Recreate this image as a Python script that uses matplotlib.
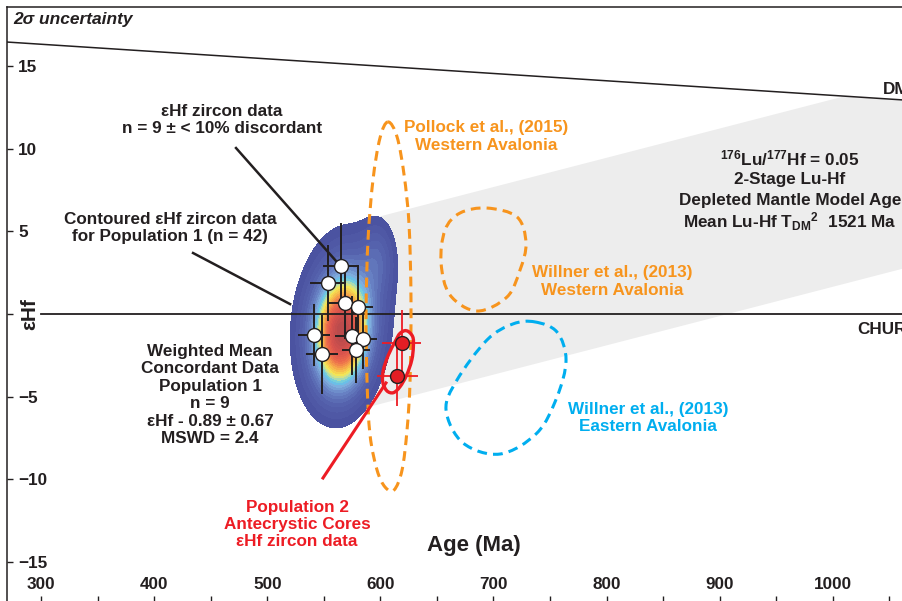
import numpy as np
import matplotlib.pyplot as plt
from matplotlib.path import Path
from matplotlib.patches import PathPatch
from matplotlib.colors import LinearSegmentedColormap

plt.rcParams['font.family'] = ['Liberation Sans', 'DejaVu Sans']
plt.rcParams['font.weight'] = 'bold'
plt.rcParams['axes.labelweight'] = 'bold'
plt.rcParams['mathtext.fontset'] = 'custom'
plt.rcParams['mathtext.rm'] = 'Liberation Sans:bold'
plt.rcParams['mathtext.it'] = 'Liberation Sans:bold:italic'
plt.rcParams['mathtext.bf'] = 'Liberation Sans:bold'

INK = '#231F20'
ORANGE = '#F7941D'
BLUE = '#00AEEF'
RED = '#ED1C24'

# ==================================================
# DATA
# ==================================================
# Population 1 zircons (< 10% discordant)
pop1_age = [565.3, 553.5, 568.8, 580.5, 541.6, 575.2, 585.0, 578.5, 548.2]
pop1_ehf = [2.90, 1.89, 0.68, 0.44, -1.27, -1.31, -1.53, -2.18, -2.44]
pop1_age_err = [16, 16, 14, 13, 14, 15, 12, 12, 14]
pop1_ehf_err = [2.6, 2.3, 2.2, 2.5, 1.9, 2.4, 1.8, 2.0, 2.4]

# Population 2 antecrystic cores
pop2_age = [618.9, 615.0]
pop2_ehf = [-1.77, -3.75]
pop2_age_err = [17, 18]
pop2_ehf_err = [2.0, 1.8]

# Density components for the Population 1 (n = 42) contour
blob_age = [566, 566, 598]
blob_ehf = [-1.2, -0.5, 3.4]
blob_sx = [15, 23, 10]
blob_sy = [2.1, 3.0, 1.5]
blob_rho = [0.1, 0.15, 0.0]
blob_w = [1.0, 0.45, 0.18]

# Reference evolution lines
dm_age = [270, 1150]
dm_ehf = [16.45, 12.56]
chur_age = [300, 1150]
chur_ehf = [0, 0]

# 176Lu/177Hf = 0.05 crustal evolution band
band_age = [560, 1150]
band_lo = [-6.11, 4.34]
band_hi = [5.24, 15.68]

# Literature fields
pollock_age = [606.8, 614.8, 621.0, 625.4, 627.1, 626.3, 623.6, 619.2, 612.1,
               604.2, 597.1, 590.9, 588.2, 587.4, 589.1, 593.5, 599.7]
pollock_ehf = [11.62, 10.71, 8.41, 5.38, 0.85, -3.99, -7.02, -9.44, -10.65,
               -10.47, -9.44, -7.32, -3.99, 0.24, 4.48, 8.11, 10.65]
willner_w_age = [694.3, 720.9, 728.8, 723.5, 712.0, 685.5, 661.6, 653.7, 657.2, 670.5]
willner_w_ehf = [6.41, 5.87, 4.29, 2.66, 1.03, 0.18, 1.15, 3.09, 5.08, 6.11]
willner_e_age = [736.8, 756.2, 764.2, 756.2, 738.5, 705.8, 673.1, 658.1, 667.8, 694.3, 717.3]
willner_e_ehf = [-0.48, -1.09, -2.78, -5.02, -7.20, -8.47, -7.80, -5.81, -3.99, -1.57, -0.60]
pop2_env_age = [623.3, 628.6, 629.2, 627.8, 623.3, 617.4, 611.5, 605.7, 602.1, 602.7, 607.1, 613.0, 617.4]
pop2_env_ehf = [-1.01, -1.37, -1.98, -2.78, -3.69, -4.40, -4.76, -4.64, -4.10, -3.39, -2.48, -1.68, -1.17]

x_ticks = [300, 400, 500, 600, 700, 800, 900, 1000]
x_minor = [350, 450, 550, 650, 750, 850, 950, 1050]
y_ticks = [-15, -10, -5, 0, 5, 10, 15]
y_labels = ['\u221215', '\u221210', '\u22125', '', '5', '10', '15']


def closed_path(xs, ys):
    # smooth closed outline (Catmull-Rom through the points, as cubic Beziers)
    pts = np.column_stack([xs, ys])
    n = len(pts)
    verts = [pts[0]]
    codes = [Path.MOVETO]
    for i in range(n):
        p0, p1, p2, p3 = pts[i - 1], pts[i], pts[(i + 1) % n], pts[(i + 2) % n]
        verts += [p1 + (p2 - p0) / 6, p2 - (p3 - p1) / 6, p2]
        codes += [Path.CURVE4] * 3
    return Path(verts, codes)


# ==================================================
# FIGURE
# ==================================================
fig = plt.figure(figsize=(9.03, 6.01), dpi=100)
ax = fig.add_axes([7 / 903, -1 / 601, 993 / 903, 595 / 601])
ax.set_xlim(269.9, 1147.9)
ax.set_ylim(-17.42, 18.57)

for side in ['left', 'top', 'bottom', 'right']:
    ax.spines[side].set_linewidth(1.1)
    ax.spines[side].set_color(INK)

# evolution band
grid = np.linspace(band_age[0], band_age[1], 400)
lo = np.interp(grid, band_age, band_lo)
hi = np.minimum(np.interp(grid, band_age, band_hi), np.interp(grid, dm_age, dm_ehf))
ax.fill_between(grid, lo, hi, color='#EDEDED', lw=0, zorder=1)

ax.plot(dm_age, dm_ehf, color=INK, lw=1.1, zorder=2)

# Population 1 density contour (sum of correlated gaussians)
gx, gy = np.meshgrid(np.linspace(470, 670, 320), np.linspace(-11, 11, 320))
dens = np.zeros_like(gx)
for mx, my, sx, sy, rho, w in zip(blob_age, blob_ehf, blob_sx, blob_sy, blob_rho, blob_w):
    u = (gx - mx) / sx
    v = (gy - my) / sy
    q = (u ** 2 - 2 * rho * u * v + v ** 2) / (1 - rho ** 2)
    dens += w * np.exp(-0.5 * q)
dens /= dens.max()
cmap = LinearSegmentedColormap.from_list('pop1', [
    (0.00, '#4A519F'), (0.12, '#5562AD'), (0.24, '#6A85C6'), (0.33, '#7FB0DF'),
    (0.38, '#5FC8EC'), (0.45, '#C6E29A'), (0.50, '#F5E553'), (0.60, '#F6AE4A'),
    (0.72, '#EC6A4C'), (0.85, '#D9534D'), (1.00, '#B84A4C')])
ax.contourf(gx, gy, dens, levels=np.linspace(0.05, 1.0, 30), cmap=cmap, zorder=3)

ax.plot(chur_age, chur_ehf, color=INK, lw=1.3, zorder=4)

# literature fields
dash = (0, (3.2, 2.0))
for fx, fy, col in [(pollock_age, pollock_ehf, ORANGE),
                    (willner_w_age, willner_w_ehf, ORANGE),
                    (willner_e_age, willner_e_ehf, BLUE)]:
    ax.add_patch(PathPatch(closed_path(fx, fy), fill=False, edgecolor=col,
                           lw=2.2, linestyle=dash, zorder=5))

# Population 2
ax.add_patch(PathPatch(closed_path(pop2_env_age, pop2_env_ehf), fill=False,
                       edgecolor=RED, lw=2.4, zorder=6))
ax.errorbar(pop2_age, pop2_ehf, xerr=pop2_age_err, yerr=pop2_ehf_err, fmt='none',
            ecolor=RED, elinewidth=1.3, capsize=0, zorder=6)
ax.scatter(pop2_age, pop2_ehf, s=100, facecolor='#E31E24', edgecolor=INK,
           linewidth=1.0, zorder=7)

# Population 1 points
ax.errorbar(pop1_age, pop1_ehf, xerr=pop1_age_err, yerr=pop1_ehf_err, fmt='none',
            ecolor=INK, elinewidth=1.4, capsize=0, zorder=6)
ax.scatter(pop1_age, pop1_ehf, s=100, facecolor='white', edgecolor=INK,
           linewidth=1.0, zorder=7)

# leader lines
ax.plot([472.4, 564.0], [10.04, 2.96], color=INK, lw=1.8, zorder=6.5)
ax.plot([434.4, 520.2], [3.69, 0.60], color=INK, lw=1.8, zorder=6.5)
ax.plot([549.3, 605.0], [-9.92, -4.17], color=RED, lw=2.2, zorder=6.5)

# ticks
ax.set_xticks(x_ticks)
ax.set_xticks(x_minor, minor=True)
ax.set_yticks(y_ticks, y_labels)
ax.tick_params(axis='x', which='both', direction='in', length=4.5, width=1.0,
               color=INK, pad=-18, labelsize=12.3, labelcolor=INK)
ax.tick_params(axis='y', direction='in', length=4.5, width=1.0, color=INK,
               pad=-8, labelsize=12.3, labelcolor=INK)
for lab in ax.get_yticklabels():
    lab.set_horizontalalignment('left')

x0, x1 = ax.get_xlim()
y0, y1 = ax.get_ylim()
ax.set_xlabel('Age (Ma)', fontsize=16, fontweight='bold', color=INK)
ax.xaxis.set_label_coords((682.8 - x0) / (x1 - x0), (-14.03 - y0) / (y1 - y0))
ax.xaxis.label.set_va('center')
ax.set_ylabel('\u03b5Hf', fontsize=15, fontweight='bold', color=INK)
ax.yaxis.set_label_coords(23 / 993, (0 - y0) / (y1 - y0))
ax.yaxis.label.set_va('center')

# annotations
fs = 12.3
ax.text(275.2, 17.79, '2\u03c3 uncertainty', fontsize=12.5, style='italic',
        color=INK, ha='left', va='center')
ax.text(460.0, 11.74, '\u03b5Hf zircon data\nn = 9 \u00b1 < 10% discordant',
        fontsize=fs, color=INK, ha='center', va='center', multialignment='center')
ax.text(414.1, 5.20, 'Contoured \u03b5Hf zircon data\nfor Population 1 (n = 42)',
        fontsize=fs, color=INK, ha='center', va='center', multialignment='center')
ax.text(449.4, -4.90, 'Weighted Mean\nConcordant Data\nPopulation 1\nn = 9\n'
        '\u03b5Hf - 0.89 \u00b1 0.67\nMSWD = 2.4',
        fontsize=fs, color=INK, ha='center', va='center', multialignment='center')
ax.text(693.5, 10.74, 'Pollock et al., (2015)\nWestern Avalonia', fontsize=fs,
        color=ORANGE, ha='center', va='center', multialignment='center')
ax.text(804.9, 1.97, 'Willner et al., (2013)\nWestern Avalonia', fontsize=fs,
        color=ORANGE, ha='center', va='center', multialignment='center')
ax.text(836.7, -6.29, 'Willner et al., (2013)\nEastern Avalonia', fontsize=fs,
        color=BLUE, ha='center', va='center', multialignment='center')
ax.text(526.3, -12.73, 'Population 2\nAntecrystic Cores\n\u03b5Hf zircon data',
        fontsize=fs, color=RED, ha='center', va='center', multialignment='center')

band_text = [r'$^{176}$Lu/$^{177}$Hf = 0.05', '2-Stage Lu-Hf',
             'Depleted Mantle Model Age', r'Mean Lu-Hf T$_{\mathrm{DM}}$$^{2}$  1521 Ma']
for txt, yv in zip(band_text, [9.38, 8.11, 6.84, 5.57]):
    ax.text(962.2, yv, txt, fontsize=fs, color=INK, ha='center', va='center')

ax.text(1044.5, 13.55, 'DM', fontsize=fs, color=INK, ha='left', va='center')
ax.text(1021.5, -0.91, 'CHUR', fontsize=fs, color=INK, ha='left', va='center')

fig.savefig('out.png', dpi=100)
